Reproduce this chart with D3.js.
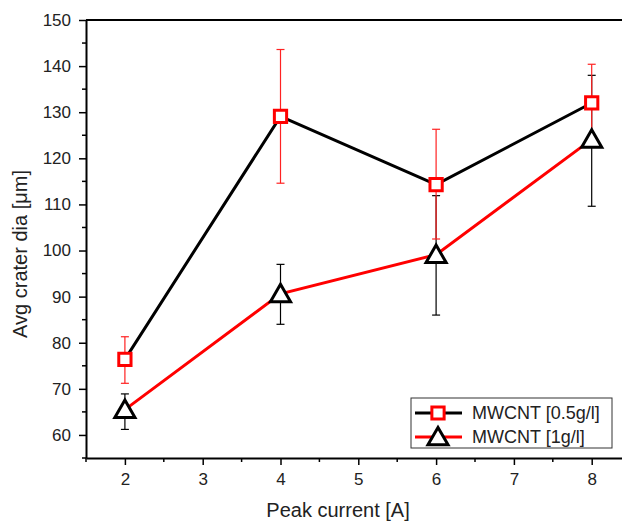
<!DOCTYPE html>
<html>
<head>
<meta charset="utf-8">
<script src="https://cdn.jsdelivr.net/npm/d3@7"></script>
<style>
  body { margin: 0; background: #fff; }
  svg text { font-family: "Liberation Sans", Arial, sans-serif; }
</style>
</head>
<body>
<div id="chart"></div>
<script>
// peak current values
const current = [2, 4, 6, 8];

// MWCNT 0.5 g/l
const dia05 = [76.4, 129.1, 114.3, 132.0];
const err05Lo = [71.2, 114.6, 102.5, 123.8];
const err05Hi = [81.3, 143.6, 126.3, 140.4];

// MWCNT 1 g/l
const dia1 = [65.5, 90.6, 99.1, 124.1];
const err1Lo = [61.2, 84.0, 86.0, 109.6];
const err1Hi = [68.9, 97.0, 111.9, 138.0];

const xTicks = [2, 3, 4, 5, 6, 7, 8];
const yTicks = [60, 70, 80, 90, 100, 110, 120, 130, 140, 150];

const width = 622, height = 523;
const margin = { left: 86, top: 20, bottom: 458 };

const svg = d3.select("#chart").append("svg")
  .attr("width", width).attr("height", height);

const x = d3.scaleLinear().domain([1.5, 8.5]).range([margin.left, margin.left + 7 * 77.8]);
const y = d3.scaleLinear().domain([55, 150]).range([margin.bottom, margin.top]);

// minor ticks
const xMinor = d3.range(1.5, 8.51, 0.5).filter(v => !xTicks.includes(v));
const yMinor = d3.range(55, 150, 10);

svg.append("g").selectAll("line").data(xMinor).join("line")
  .attr("x1", d => x(d)).attr("x2", d => x(d))
  .attr("y1", margin.bottom).attr("y2", margin.bottom + 4)
  .attr("stroke", "#000").attr("stroke-width", 1.5);
svg.append("g").selectAll("line").data(yMinor).join("line")
  .attr("y1", d => y(d)).attr("y2", d => y(d))
  .attr("x1", margin.left).attr("x2", margin.left - 4)
  .attr("stroke", "#000").attr("stroke-width", 1.5);

const xAxis = svg.append("g")
  .attr("transform", `translate(0,${margin.bottom})`)
  .call(d3.axisBottom(x).tickValues(xTicks).tickFormat(d3.format("d"))
    .tickSize(7).tickPadding(8).tickSizeOuter(0));
const yAxis = svg.append("g")
  .attr("transform", `translate(${margin.left},0)`)
  .call(d3.axisLeft(y).tickValues(yTicks).tickSize(7).tickPadding(8).tickSizeOuter(0));

[xAxis, yAxis].forEach(g => {
  g.select(".domain").attr("stroke-width", 2);
  g.selectAll(".tick line").attr("stroke-width", 1.5);
  g.selectAll("text").attr("font-size", 17).attr("fill", "#222");
});

// top frame line
svg.append("line")
  .attr("x1", margin.left).attr("x2", width)
  .attr("y1", margin.top).attr("y2", margin.top)
  .attr("stroke", "#000").attr("stroke-width", 2);

// axis titles
svg.append("text")
  .attr("x", 338).attr("y", 517)
  .attr("text-anchor", "middle").attr("font-size", 20).attr("fill", "#222")
  .text("Peak current [A]");
svg.append("text")
  .attr("transform", `translate(27,${(margin.top + margin.bottom) / 2 + 15}) rotate(-90)`)
  .attr("text-anchor", "middle").attr("font-size", 20).attr("fill", "#222")
  .text("Avg crater dia [μm]");

function errorBars(lo, hi, color) {
  const g = svg.append("g").attr("stroke", color).attr("stroke-width", 1.2);
  current.forEach((c, i) => {
    g.append("line").attr("x1", x(c)).attr("x2", x(c)).attr("y1", y(lo[i])).attr("y2", y(hi[i]));
    [lo[i], hi[i]].forEach(v => {
      g.append("line").attr("x1", x(c) - 4).attr("x2", x(c) + 4).attr("y1", y(v)).attr("y2", y(v));
    });
  });
}

errorBars(err1Lo, err1Hi, "#000");
errorBars(err05Lo, err05Hi, "#f22");

const line = d3.line().x(d => x(d[0])).y(d => y(d[1]));

svg.append("path").datum(d3.zip(current, dia05))
  .attr("d", line).attr("fill", "none").attr("stroke", "#000").attr("stroke-width", 3);
svg.append("path").datum(d3.zip(current, dia1))
  .attr("d", line).attr("fill", "none").attr("stroke", "#f00").attr("stroke-width", 3);

const square = d3.symbol().type(d3.symbolSquare).size(150);
const triangle = d3.symbol().type(d3.symbolTriangle).size(175);

svg.append("g").selectAll("path").data(d3.zip(current, dia05)).join("path")
  .attr("transform", d => `translate(${x(d[0])},${y(d[1])})`)
  .attr("d", square).attr("fill", "#fff").attr("stroke", "#f00").attr("stroke-width", 3);
svg.append("g").selectAll("path").data(d3.zip(current, dia1)).join("path")
  .attr("transform", d => `translate(${x(d[0])},${y(d[1]) + 2})`)
  .attr("d", triangle).attr("fill", "#fff").attr("stroke", "#000").attr("stroke-width", 3);

// legend
const legend = svg.append("g").attr("transform", "translate(411,398)");
legend.append("rect").attr("width", 201).attr("height", 50)
  .attr("fill", "#fff").attr("stroke", "#333").attr("stroke-width", 1);

const items = [
  { label: "MWCNT [0.5g/l]", line: "#000", sym: square, stroke: "#f00", dy: 0 },
  { label: "MWCNT [1g/l]", line: "#f00", sym: triangle, stroke: "#000", dy: 2 }
];
items.forEach((d, i) => {
  const row = legend.append("g").attr("transform", `translate(0,${15 + i * 24})`);
  row.append("line").attr("x1", 4).attr("x2", 51).attr("stroke", d.line).attr("stroke-width", 3);
  row.append("path").attr("transform", `translate(27,${d.dy})`)
    .attr("d", d.sym).attr("fill", "#fff").attr("stroke", d.stroke).attr("stroke-width", 3);
  row.append("text").attr("x", 61).attr("y", 6)
    .attr("font-size", 18).attr("fill", "#222").text(d.label);
});
</script>
</body>
</html>
